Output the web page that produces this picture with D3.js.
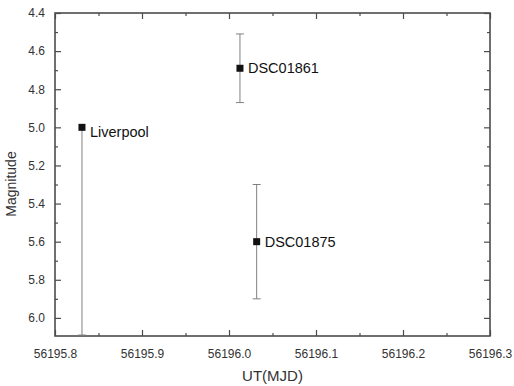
<!DOCTYPE html>
<html>
<head>
<meta charset="utf-8">
<script src="https://cdn.jsdelivr.net/npm/d3@7"></script>
<style>
  body { margin: 0; background: #fff; }
  svg { display: block; font-family: "Liberation Sans", Arial, sans-serif; }
</style>
</head>
<body>
<svg id="chart"></svg>
<script>
// Data
const names = ["Liverpool", "DSC01861", "DSC01875"];
const mjd = [56195.831, 56196.0126, 56196.0318];
const magnitude = [5.0, 4.69, 5.6];
const errMinus = [0, 0.18, 0.3];
const errPlus = [1.09, 0.18, 0.3];
const xTicks = [56195.8, 56195.9, 56196.0, 56196.1, 56196.2, 56196.3];
const yTicks = [4.4, 4.6, 4.8, 5.0, 5.2, 5.4, 5.6, 5.8, 6.0];

const width = 514, height = 386;
const margin = { top: 13, right: 24, bottom: 50, left: 55 };
const w = width - margin.left - margin.right;
const h = height - margin.top - margin.bottom;

const points = names.map((n, i) => ({
    name: n, x: mjd[i], y: magnitude[i], lo: magnitude[i] - errMinus[i], hi: magnitude[i] + errPlus[i]
}));

const svg = d3.select("#chart").attr("width", width).attr("height", height);
const g = svg.append("g").attr("transform", `translate(${margin.left},${margin.top})`);

const x = d3.scaleLinear().domain([56195.8, 56196.3]).range([0, w]);
const y = d3.scaleLinear().domain([4.4, 6.095]).range([0, h]);

const frameColor = "#4c4c4c";
const textColor = "#333";

// minor ticks (halfway)
const xMinor = xTicks.slice(0, -1).map(v => v + 0.05);
const yMinor = yTicks.map(v => v + 0.1).filter(v => v < 6.095);

function styleAxis(sel) {
    sel.select(".domain").remove();
    sel.selectAll(".tick line").attr("stroke", frameColor).attr("stroke-width", 1.2);
    sel.selectAll(".tick text").attr("fill", textColor).style("font-size", "12px");
}

// bottom
g.append("g").attr("transform", `translate(0,${h})`)
    .call(d3.axisBottom(x).tickValues(xTicks).tickSize(-6).tickPadding(13).tickFormat(d3.format(".1f")))
    .call(styleAxis);
g.append("g").attr("transform", `translate(0,${h})`)
    .call(d3.axisBottom(x).tickValues(xMinor).tickSize(-3).tickFormat(""))
    .call(styleAxis);
// top
g.append("g")
    .call(d3.axisTop(x).tickValues(xTicks).tickSize(-6).tickFormat(""))
    .call(styleAxis);
g.append("g")
    .call(d3.axisTop(x).tickValues(xMinor).tickSize(-3).tickFormat(""))
    .call(styleAxis);
// left
g.append("g")
    .call(d3.axisLeft(y).tickValues(yTicks).tickSize(-6).tickPadding(10).tickFormat(d3.format(".1f")))
    .call(styleAxis);
g.append("g")
    .call(d3.axisLeft(y).tickValues(yMinor).tickSize(-3).tickFormat(""))
    .call(styleAxis);
// right
g.append("g").attr("transform", `translate(${w},0)`)
    .call(d3.axisRight(y).tickValues(yTicks).tickSize(-6).tickFormat(""))
    .call(styleAxis);
g.append("g").attr("transform", `translate(${w},0)`)
    .call(d3.axisRight(y).tickValues(yMinor).tickSize(-3).tickFormat(""))
    .call(styleAxis);

// frame
g.append("rect")
    .attr("width", w).attr("height", h)
    .attr("fill", "none").attr("stroke", frameColor).attr("stroke-width", 1.6);

// error bars
const errColor = "#808080";
const bars = g.append("g").selectAll("g").data(points).enter().append("g");
bars.append("line")
    .attr("x1", d => x(d.x)).attr("x2", d => x(d.x))
    .attr("y1", d => y(d.lo)).attr("y2", d => y(Math.min(d.hi, 6.095)))
    .attr("stroke", errColor).attr("stroke-width", 1);
bars.filter(d => d.lo < d.y).append("line")
    .attr("x1", d => x(d.x) - 4).attr("x2", d => x(d.x) + 4)
    .attr("y1", d => y(d.lo)).attr("y2", d => y(d.lo))
    .attr("stroke", errColor).attr("stroke-width", 1);
bars.append("line")
    .attr("x1", d => x(d.x) - 4).attr("x2", d => x(d.x) + 4)
    .attr("y1", d => y(Math.min(d.hi, 6.095))).attr("y2", d => y(Math.min(d.hi, 6.095)))
    .attr("stroke", errColor).attr("stroke-width", 1);

// markers
g.append("g").selectAll("rect").data(points).enter().append("rect")
    .attr("x", d => x(d.x) - 3.5).attr("y", d => y(d.y) - 3.5)
    .attr("width", 7).attr("height", 7)
    .attr("fill", "#111");

// point labels
const labelDy = [10, 5, 5];
g.append("g").selectAll("text").data(points).enter().append("text")
    .attr("x", d => x(d.x) + 8)
    .attr("y", (d, i) => y(d.y) + labelDy[i])
    .attr("fill", "#111")
    .style("font-size", "14.5px")
    .text(d => d.name);

// axis titles
svg.append("text")
    .attr("x", margin.left + w / 2).attr("y", 381)
    .attr("text-anchor", "middle").attr("fill", textColor)
    .style("font-size", "15px")
    .text("UT(MJD)");

svg.append("text")
    .attr("transform", `translate(16,184) rotate(-90)`)
    .attr("text-anchor", "middle").attr("fill", textColor)
    .style("font-size", "14px")
    .text("Magnitude");
</script>
</body>
</html>
